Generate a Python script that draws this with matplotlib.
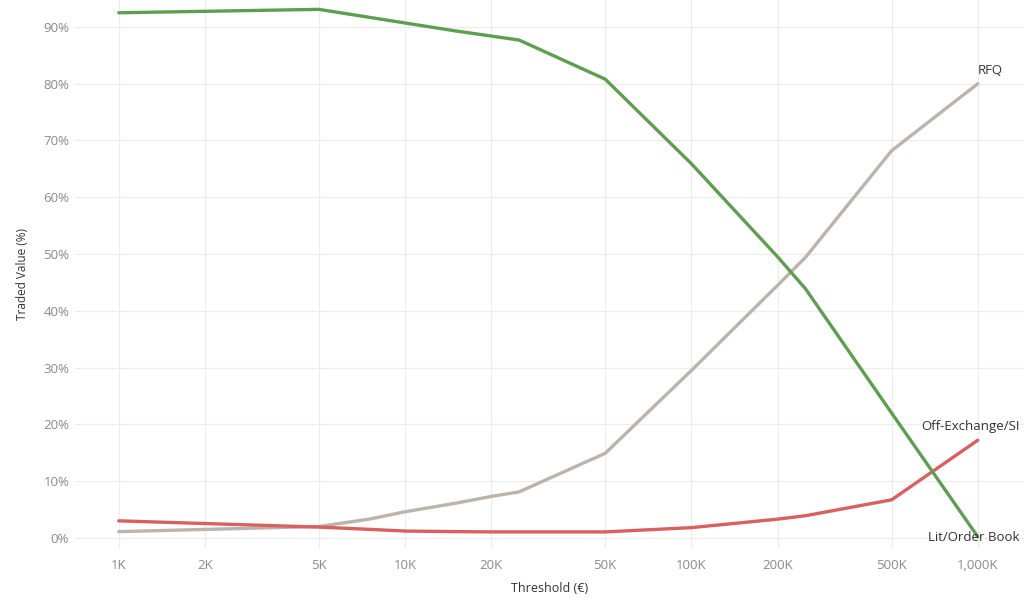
import numpy as np
import matplotlib
matplotlib.use('Agg')
import matplotlib.pyplot as plt
from matplotlib.ticker import FixedLocator, FixedFormatter, NullLocator

# thresholds in euros
thresholds = [1000, 5000, 7500, 10000, 15000, 20000, 25000, 50000,
              100000, 200000, 250000, 500000, 1000000]

lit_order_book = [92.5, 93.1, 91.7, 90.7, 89.3, 88.4, 87.7, 80.8,
                  65.9, 49.5, 43.9, 22.0, 0.2]
rfq = [1.1, 2.0, 3.3, 4.6, 6.1, 7.3, 8.1, 14.9,
       29.5, 44.5, 49.4, 68.2, 80.0]
off_exchange = [3.0, 1.9, 1.5, 1.2, 1.1, 1.05, 1.05, 1.05,
                1.8, 3.3, 3.9, 6.7, 17.2]

tick_vals = [1e3, 2e3, 5e3, 1e4, 2e4, 5e4, 1e5, 2e5, 5e5, 1e6]
tick_labels = ['1K', '2K', '5K', '10K', '20K', '50K', '100K', '200K', '500K', '1,000K']
y_ticks = list(range(0, 100, 10))

plt.rcParams['font.family'] = ['Open Sans', 'DejaVu Sans']

fig = plt.figure(figsize=(10.24, 6.0), dpi=100)
ax = fig.add_axes([0.073, 0.087, 0.927, 0.913])

green = '#5e9e50'
grey = '#bcb3ad'
red = '#d9605f'

ax.plot(thresholds, rfq, color=grey, linewidth=2.4, solid_capstyle='round')
ax.plot(thresholds, off_exchange, color=red, linewidth=2.4, solid_capstyle='round')
ax.plot(thresholds, lit_order_book, color=green, linewidth=2.4, solid_capstyle='round')

ax.set_xscale('log')
ax.set_xlim(702, 1.45e6)
ax.set_ylim(-1.75, 94.75)

ax.xaxis.set_major_locator(FixedLocator(tick_vals))
ax.xaxis.set_major_formatter(FixedFormatter(tick_labels))
ax.xaxis.set_minor_locator(NullLocator())
ax.set_yticks(y_ticks)
ax.set_yticklabels([f'{v}%' for v in y_ticks])

ax.tick_params(axis='both', length=0, labelsize=9.5, labelcolor='#8a8a8a')
ax.tick_params(axis='x', pad=8)
ax.tick_params(axis='y', pad=4)
ax.grid(True, color='#ececec', linewidth=0.8)
ax.set_axisbelow(True)
for s in ax.spines.values():
    s.set_visible(False)

ax.set_xlabel('Threshold (€)', fontsize=9, color='#333333', labelpad=7)
ax.set_ylabel('Traded Value (%)', fontsize=8.5, color='#333333', labelpad=10)

ax.annotate('RFQ', (thresholds[-1], rfq[-1]), xytext=(12, 13),
            textcoords='offset pixels', ha='center', va='center',
            fontsize=9.5, color='#333333')
ax.annotate('Off-Exchange/SI', (thresholds[-1], off_exchange[-1]), xytext=(42, 14),
            textcoords='offset pixels', ha='right', va='center',
            fontsize=9.5, color='#333333')
ax.annotate('Lit/Order Book', (thresholds[-1], lit_order_book[-1]), xytext=(42, -1),
            textcoords='offset pixels', ha='right', va='center',
            fontsize=9.5, color='#333333')

plt.savefig('out.png', dpi=100)
print('--> out.png')
